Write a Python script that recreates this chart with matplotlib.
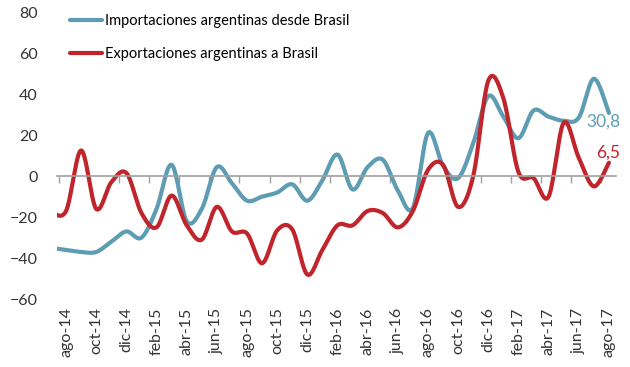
import matplotlib

matplotlib.use("Agg")
import matplotlib.pyplot as plt
import numpy as np

plt.rcParams.update({
    "font.family": ["Lato", "DejaVu Sans"],
    "font.size": 11,
})

# meses: jul-14 ... ago-17 (jul-14 queda recortado por el borde del eje)
month_abbr = ["ene", "feb", "mar", "abr", "may", "jun",
              "jul", "ago", "sep", "oct", "nov", "dic"]
months = ([f"{m}-14" for m in month_abbr[6:]]
          + [f"{m}-15" for m in month_abbr]
          + [f"{m}-16" for m in month_abbr]
          + [f"{m}-17" for m in month_abbr[:8]])

importaciones = [-35, -36, -37, -37, -32, -27, -30, -16, 5.5, -22,
                 -16, 4.4, -3.5, -12, -10, -8, -4, -12, -2, 10.5,
                 -6.5, 4.4, 8, -7, -15.5, 21, 5, -1, 16, 39,
                 29, 18.5, 32, 29, 27, 28.5, 47.5, 30.8]
exportaciones = [-17.5, -17, 12.5, -16, -3, 1.5, -18, -25, -9.5, -24,
                 -31, -15, -27, -28, -42.5, -26.5, -26, -48, -36, -24,
                 -24, -17, -18, -25, -17, 3, 5.5, -15, 0, 46.5,
                 38, 2, -1, -10, 26, 9, -5, 6.5]

BLUE = "#5d9cb3"
RED = "#c0252c"


def smooth(x, y, n=20):
    """Curva suavizada tipo Excel (Catmull-Rom)."""
    x = np.asarray(x, float)
    y = np.asarray(y, float)
    px = np.concatenate([[x[0]], x, [x[-1]]])
    py = np.concatenate([[y[0]], y, [y[-1]]])
    xs, ys = [], []
    t = np.linspace(0, 1, n, endpoint=False)
    for i in range(1, len(px) - 2):
        p0 = np.array([px[i], py[i]])
        p3 = np.array([px[i + 1], py[i + 1]])
        c1 = p0 + (p3 - np.array([px[i - 1], py[i - 1]])) / 6
        c2 = p3 - (np.array([px[i + 2], py[i + 2]]) - p0) / 6
        b = ((1 - t) ** 3)[:, None] * p0 + (3 * (1 - t) ** 2 * t)[:, None] * c1 \
            + (3 * (1 - t) * t ** 2)[:, None] * c2 + (t ** 3)[:, None] * p3
        xs.append(b[:, 0])
        ys.append(b[:, 1])
    xs.append([x[-1]])
    ys.append([y[-1]])
    return np.concatenate(xs), np.concatenate(ys)


x = np.arange(len(months)) - 1  # ago-14 en x=0

fig = plt.figure(figsize=(6.3, 3.67), dpi=100)
ax = fig.add_axes([0.0905, 0.185, 0.888, 0.782])

sx, sy = smooth(x, importaciones)
ax.plot(sx, sy, color=BLUE, lw=3, solid_capstyle="round",
        label="Importaciones argentinas desde Brasil")
sx, sy = smooth(x, exportaciones)
ax.plot(sx, sy, color=RED, lw=3, solid_capstyle="round",
        label="Exportaciones argentinas a Brasil")

ax.set_xlim(-0.6, 36.5)
ax.set_ylim(-60, 80)
ax.set_yticks(range(-60, 81, 20))
ax.tick_params(axis="y", length=0, pad=14, labelsize=11.5, colors="#333333")

for s in ["top", "right", "left"]:
    ax.spines[s].set_visible(False)
ax.spines["bottom"].set_position(("data", 0))
ax.spines["bottom"].set_color("#a0a0a0")
ax.spines["bottom"].set_linewidth(1.2)
ax.set_xticks(np.arange(-0.5, 36.6, 2))
ax.set_xticklabels([])
ax.tick_params(axis="x", length=5, color="#a0a0a0", width=1)

# etiquetas de meses al pie del grafico
sec = ax.secondary_xaxis("bottom")
sec.spines["bottom"].set_visible(False)
sec.set_xticks(x[1::2], labels=months[1::2], rotation=90)
sec.tick_params(length=0, pad=6, labelsize=11.5, colors="#333333")

# valores finales
ax.text(36.75, 26.5, f"{importaciones[-1]:.1f}".replace(".", ","),
        color=BLUE, fontsize=12.5, ha="right", va="center")
ax.text(36.75, 11.5, f"{exportaciones[-1]:.1f}".replace(".", ","),
        color=RED, fontsize=12.5, ha="right", va="center")

ax.legend(loc="upper left", bbox_to_anchor=(0.0, 1.04), frameon=False,
          fontsize=10.5, handlelength=2.2, handletextpad=0.2,
          labelspacing=1.35)

fig.savefig("out.png", dpi=100)
